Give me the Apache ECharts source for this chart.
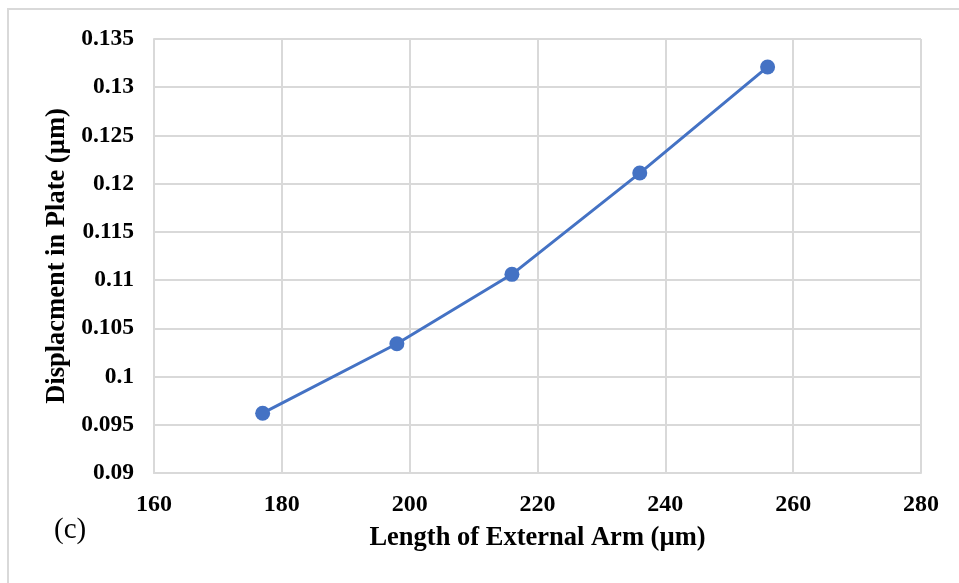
<!DOCTYPE html>
<html>
<head>
<meta charset="utf-8">
<script src="https://cdn.jsdelivr.net/npm/echarts@6/dist/echarts.min.js"></script>
<style>
  html, body { margin: 0; padding: 0; background: #ffffff; }
  #chart { width: 959px; height: 583px; }
</style>
</head>
<body>
<div id="chart"></div>
<script>
// Arm length (µm) and resulting plate displacement (µm)
const armLength = [177, 198, 216, 236, 256];
const displacement = [0.0962, 0.1034, 0.1106, 0.1211, 0.1321];
const xTicks = { min: 160, max: 280, step: 20 };
const yTicks = { min: 0.09, max: 0.135, step: 0.005 };

const points = armLength.map((x, i) => [x, displacement[i]]);
const serif = '"Liberation Serif", "Times New Roman", serif';
const gridGrey = '#d9d9d9';

const chart = echarts.init(document.getElementById('chart'));
chart.setOption({
  backgroundColor: '#ffffff',
  animation: false,
  grid: { left: 154, right: 38, top: 39, bottom: 110, containLabel: false },
  graphic: [
    {
      type: 'rect',
      shape: { x: 8, y: 9, width: 1000, height: 600 },
      style: { fill: 'none', stroke: '#d9d9d9', lineWidth: 2 },
      silent: true
    },
    {
      type: 'text',
      left: 54,
      top: 516,
      style: { text: '(c)', font: '29px ' + serif, fill: '#000' }
    }
  ],
  xAxis: {
    type: 'value',
    min: xTicks.min,
    max: xTicks.max,
    interval: xTicks.step,
    name: 'Length of External Arm (µm)',
    nameLocation: 'middle',
    nameGap: 52,
    nameTextStyle: { fontFamily: serif, fontWeight: 'bold', fontSize: 26.5, color: '#000' },
    axisLine: { show: true, lineStyle: { color: gridGrey, width: 2 } },
    axisTick: { show: false },
    splitLine: { show: true, lineStyle: { color: gridGrey, width: 2 } },
    axisLabel: { margin: 20, fontFamily: serif, fontWeight: 'bold', fontSize: 24, color: '#000' }
  },
  yAxis: {
    type: 'value',
    min: yTicks.min,
    max: yTicks.max,
    interval: yTicks.step,
    name: 'Displacment in Plate (µm)',
    nameLocation: 'middle',
    nameGap: 82,
    nameRotate: 90,
    nameTextStyle: { fontFamily: serif, fontWeight: 'bold', fontSize: 26.5, color: '#000' },
    axisLine: { show: true, lineStyle: { color: gridGrey, width: 2 } },
    axisTick: { show: false },
    splitLine: { show: true, lineStyle: { color: gridGrey, width: 2 } },
    axisLabel: {
      margin: 20,
      fontFamily: serif,
      fontWeight: 'bold',
      fontSize: 23.5,
      color: '#000',
      formatter: v => String(parseFloat(v.toFixed(3)))
    }
  },
  series: [{
    type: 'line',
    data: points,
    symbol: 'circle',
    symbolSize: 15,
    itemStyle: { color: '#4472C4' },
    lineStyle: { color: '#4472C4', width: 3 }
  }]
});
</script>
</body>
</html>
